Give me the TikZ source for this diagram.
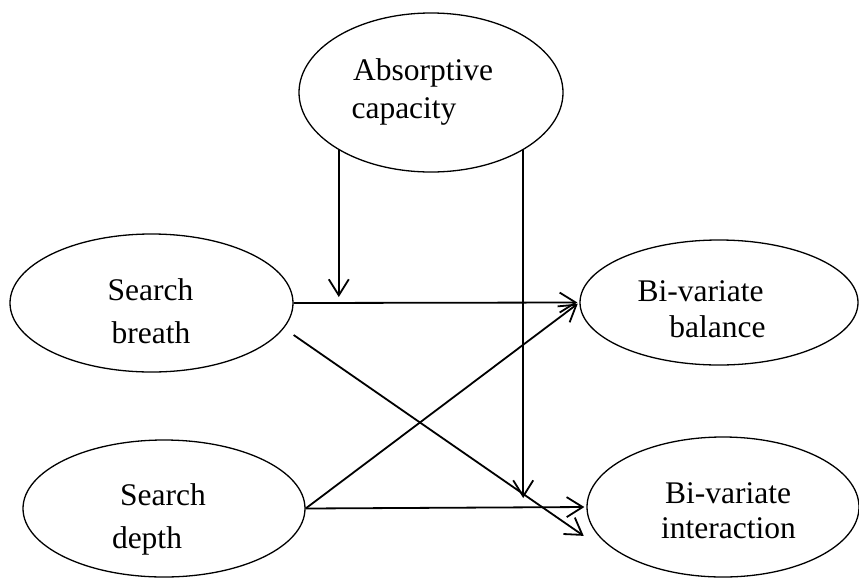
\documentclass[tikz,border=0pt]{standalone}
\usepackage{fontspec}
\setmainfont{Liberation Serif}
\usetikzlibrary{shapes.geometric,arrows.meta,calc}
\begin{document}
\begin{tikzpicture}[x=1pt,y=-1pt,
  oval/.style={draw,ellipse,line width=1.3pt,inner sep=0pt},
  lbl/.style={anchor=base,inner sep=0pt,font=\fontsize{31.5}{36}\selectfont},
  arr/.style={line width=1.8pt,shorten >=2pt,-{Straight Barb[length=16pt,width=20pt]}}]
\useasboundingbox (0,0) rectangle (859,579);
% ellipses
\node[oval,minimum width=264pt,minimum height=159pt] (ac) at (431,92.5) {};
\node[oval,minimum width=283pt,minimum height=138pt] (sb) at (151.5,303) {};
\node[oval,minimum width=282pt,minimum height=137pt] (sd) at (164,508.5) {};
\node[oval,minimum width=278pt,minimum height=125pt] (bb) at (719,302.5) {};
\node[oval,minimum width=272pt,minimum height=140pt] (bi) at (723,507) {};
% texts
\node[lbl] (t1) at (423,80) {Absorptive};
\node[lbl] (t2) at (404,118) {capacity};
\node[lbl] (t3) at (150.5,300) {Search};
\node[lbl] (t4) at (151,343) {breath};
\node[lbl] (t5) at (163,505) {Search};
\node[lbl] (t6) at (147,548) {depth};
\node[lbl] (t7) at (700.5,301) {Bi-variate};
\node[lbl] (t8) at (717.5,337) {balance};
\node[lbl] (t9) at (728,503) {Bi-variate};
\node[lbl] (t10) at (728.5,538) {interaction};
% moderator end points
\coordinate (m1) at (340,297);
\coordinate (m2) at (523,498);
% connectors
\draw[arr,shorten >=0pt] (ac.212.3) -- (ac.212.3 |- m1);
\draw[arr,shorten >=0pt] (ac.-32.3) -- (ac.-32.3 |- m2);
\draw[arr] (sb.east) -- (bb.west);
\draw[arr] ($(sb.east)+(0,32)$) -- ($(bi.west)+(-1,30)$);
\draw[arr] (sd.east) -- (bb.west);
\draw[arr] (sd.east) -- (bi.west);
\end{tikzpicture}
\end{document}
